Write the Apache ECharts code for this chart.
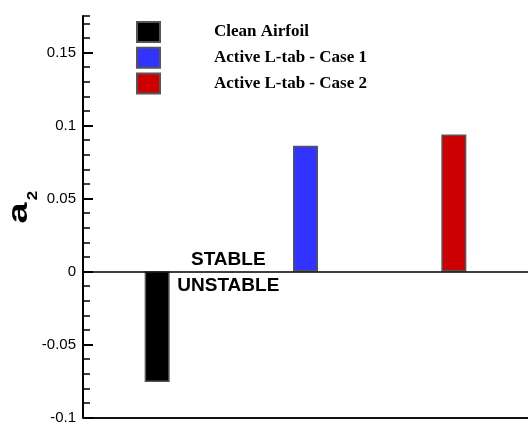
<!DOCTYPE html>
<html>
<head>
<meta charset="utf-8">
<script src="https://cdn.jsdelivr.net/npm/echarts@6/dist/echarts.min.js"></script>
<style>html,body{margin:0;padding:0;background:#fff;}#chart{width:528px;height:425px;}</style>
</head>
<body>
<div id="chart"></div>
<script>
const categories = ['Clean Airfoil', 'Active L-tab - Case 1', 'Active L-tab - Case 2'];
const cleanValues = [-0.0756, '-', '-'];
const case1Values = ['-', 0.0861, '-'];
const case2Values = ['-', '-', 0.0938];
const majorTicks = [-0.1, -0.05, 0, 0.05, 0.1, 0.15];
const tickLabels = ['-0.1', '-0.05', '0', '0.05', '0.1', '0.15'];
const minorTicks = [-0.09, -0.08, -0.07, -0.06, -0.04, -0.03, -0.02, -0.01,
  0.01, 0.02, 0.03, 0.04, 0.06, 0.07, 0.08, 0.09, 0.11, 0.12, 0.13, 0.14, 0.16, 0.17, 0.175];
const yMin = -0.1, yMax = 0.175;

const chart = echarts.init(document.getElementById('chart'));
const border = { borderColor: '#555555', borderWidth: 1.5 };
function barSeries(name, data, color, extra) {
  return Object.assign({
    name, type: 'bar', data, stack: 'all', barWidth: 25,
    itemStyle: Object.assign({ color }, border),
    animation: false
  }, extra || {});
}
chart.setOption({
  animation: false,
  grid: { left: 83, top: 16, width: 451, bottom: 6 },
  legend: {
    orient: 'vertical', left: 136, top: 21, padding: 0,
    itemWidth: 23, itemHeight: 20, itemGap: 3.7,
    icon: 'rect', selectedMode: false,
    textStyle: { fontFamily: '"Liberation Serif", "Times New Roman", serif', fontWeight: 700, fontSize: 17, color: '#000',
      padding: [0, 0, 0, 49], lineHeight: 20 },
    data: categories
  },
  xAxis: {
    type: 'category', data: categories,
    axisLine: { onZero: false, lineStyle: { color: '#111', width: 2 } },
    axisTick: { show: false }, axisLabel: { show: false }, splitLine: { show: false }
  },
  yAxis: [{
    type: 'value', min: yMin, max: yMax, position: 'left',
    axisLine: { show: true, lineStyle: { color: '#000', width: 2 } },
    axisTick: { show: true, inside: true, length: 10, customValues: majorTicks, lineStyle: { color: '#000', width: 2 } },
    axisLabel: { customValues: majorTicks, margin: 7, color: '#000', fontFamily: 'Liberation Sans', fontSize: 15,
      formatter: v => { const i = majorTicks.findIndex(t => Math.abs(t - v) < 1e-9); return i >= 0 ? tickLabels[i] : ''; } },
    splitLine: { show: false }
  }, {
    type: 'value', min: yMin, max: yMax, position: 'left', offset: 0,
    axisLine: { show: false },
    axisTick: { show: true, inside: true, length: 7, customValues: minorTicks, lineStyle: { color: '#000', width: 1.5 } },
    axisLabel: { show: false }, splitLine: { show: false }
  }],
  graphic: [
    { type: 'text', x: 19, y: 213, rotation: Math.PI / 2, scaleX: 1.35,
      style: { text: 'a', fontFamily: 'Liberation Sans', fontWeight: 700, fontSize: 28, fill: '#000', align: 'center', verticalAlign: 'middle' } },
    { type: 'text', x: 33.5, y: 195.5, rotation: Math.PI / 2, scaleX: 1.2,
      style: { text: '2', fontFamily: 'Liberation Sans', fontWeight: 700, fontSize: 14, fill: '#000', align: 'center', verticalAlign: 'middle' } },
    { type: 'text', x: 228.3, y: 259.3,
      style: { text: 'STABLE', fontFamily: 'Liberation Sans', fontWeight: 700, fontSize: 19, fill: '#000', align: 'center', verticalAlign: 'middle' } },
    { type: 'text', x: 228.3, y: 286,
      style: { text: 'UNSTABLE', fontFamily: 'Liberation Sans', fontWeight: 700, fontSize: 19, fill: '#000', align: 'center', verticalAlign: 'middle' } }
  ],
  series: [
    barSeries(categories[0], cleanValues, '#000000', {
      markLine: { silent: true, symbol: 'none', label: { show: false },
        lineStyle: { color: '#000', width: 1.5, type: 'solid' }, data: [{ yAxis: 0 }] }
    }),
    barSeries(categories[1], case1Values, '#3333ff'),
    barSeries(categories[2], case2Values, '#cc0000')
  ]
});
</script>
</body>
</html>
